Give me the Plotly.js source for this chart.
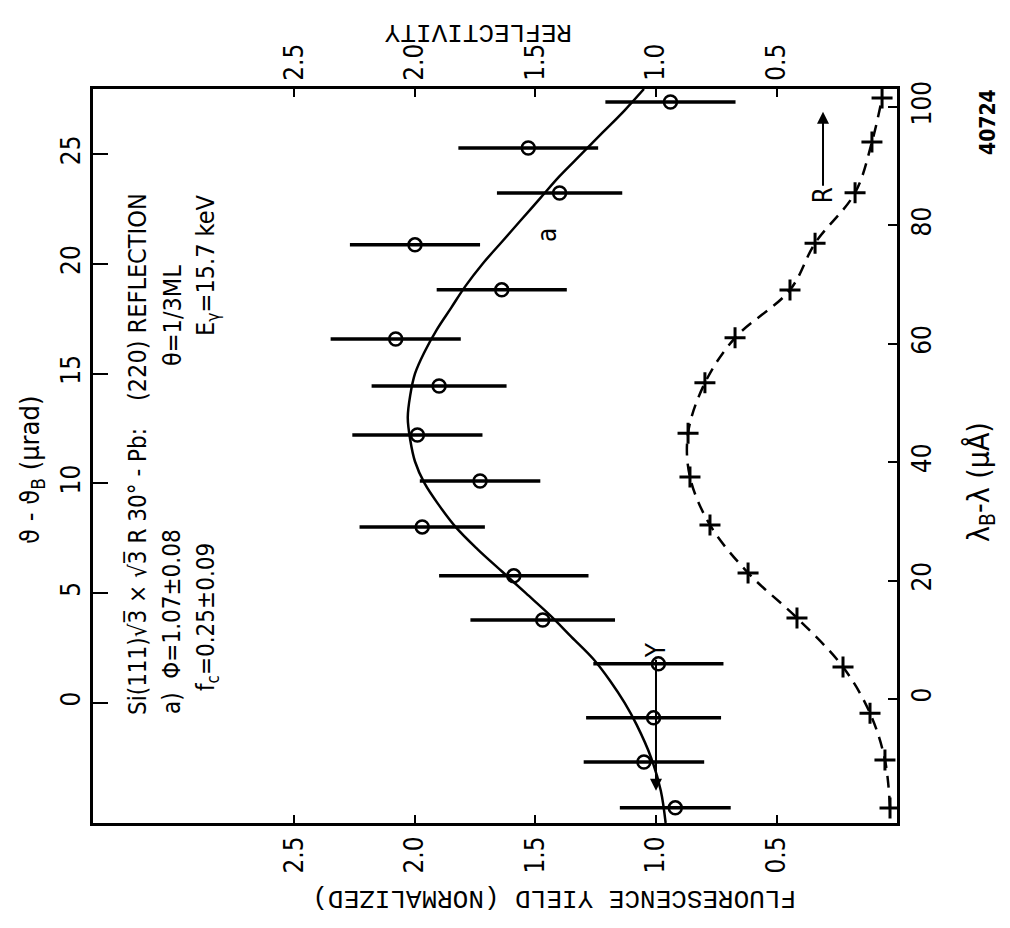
<!DOCTYPE html>
<html><head><meta charset="utf-8">
<script src="https://cdn.plot.ly/plotly-3.0.1.min.js"></script>
<style>body{margin:0;background:#fff}#chart{width:1010px;height:928px}</style>
</head><body><div id="chart"></div>
<script>
// ---- data ----
// fluorescence yield points: angle (µrad), yield, error
const yieldTheta = [-4.78, -2.69, -0.68, 1.78, 3.78, 5.79, 8.02, 10.11, 12.21, 14.44, 16.58, 18.82, 20.87, 23.23, 25.28, 27.38];
const yieldVal   = [0.92, 1.05, 1.01, 0.99, 1.47, 1.59, 1.97, 1.73, 1.99, 1.90, 2.08, 1.64, 2.00, 1.40, 1.53, 0.94];
const yieldErr   = [0.23, 0.25, 0.28, 0.27, 0.30, 0.31, 0.26, 0.25, 0.27, 0.28, 0.27, 0.27, 0.27, 0.26, 0.29, 0.27];
// fitted curve "a"
const curveTheta = [-5.47, -4, -2.5, -1, 0, 1, 2, 3, 4, 5, 6, 7, 8, 9, 10, 11, 12, 13, 14, 15, 16, 17, 18, 19, 20, 21, 22, 23, 24, 25, 26, 27, 27.97];
const curveVal   = [0.96, 0.98, 1.02, 1.08, 1.13, 1.19, 1.26, 1.35, 1.44, 1.54, 1.64, 1.74, 1.83, 1.90, 1.96, 2.00, 2.02, 2.03, 2.02, 2.00, 1.96, 1.91, 1.85, 1.79, 1.72, 1.64, 1.56, 1.48, 1.40, 1.31, 1.22, 1.13, 1.05];
// reflectivity points: wavelength offset (µÅ), R
const reflLambda = [-18.4, -10.3, -2.4, 5.4, 13.7, 21.3, 29.4, 37.5, 44.9, 53.4, 61.0, 69.1, 77.0, 85.5, 94.1, 101.5];
const reflVal    = [0.029, 0.050, 0.112, 0.224, 0.415, 0.618, 0.776, 0.859, 0.867, 0.797, 0.672, 0.444, 0.340, 0.174, 0.104, 0.062];
// tick labels
const yieldTicks = [0.5, 1.0, 1.5, 2.0, 2.5];
const yieldTickText = ['0.5', '1.0', '1.5', '2.0', '2.5'];
const thetaTicks = [0, 5, 10, 15, 20, 25];
const lambdaTicks = [0, 20, 40, 60, 80, 100];

// ---- geometry ----
const L = 93, R = 897, T = 89, B = 823;
const px = (x) => (x - L) / (R - L);
const py = (y) => (B - y) / (B - T);
const NARROW = 'Liberation Sans Narrow, DejaVu Sans Condensed, Liberation Sans, Arial, sans-serif';
const MONO = 'Liberation Mono, DejaVu Sans Mono, monospace';
const tf = {family: NARROW, size: 26, color: '#000'};
const txt = (x, y, text, size, extra) => Object.assign({xref: 'paper', yref: 'paper', x: px(x), y: py(y), text: text,
  textangle: -90, showarrow: false, xanchor: 'center', yanchor: 'middle', font: {family: NARROW, size: size, color: '#000'}}, extra || {});

const traces = [
  {x: curveVal, y: curveTheta, xaxis: 'x', yaxis: 'y', mode: 'lines', line: {color: '#000', width: 2.5, shape: 'spline'}, hoverinfo: 'skip'},
  {x: yieldVal, y: yieldTheta, xaxis: 'x', yaxis: 'y', mode: 'markers',
   error_x: {type: 'data', array: yieldErr, visible: true, color: '#000', thickness: 3.5, width: 0},
   marker: {symbol: 'circle-open', size: 13, color: '#000', line: {width: 2.5, color: '#000'}}},
  {x: reflVal, y: reflLambda, xaxis: 'x2', yaxis: 'y2', mode: 'lines+markers',
   line: {color: '#000', width: 2.5, dash: '12px,8px', shape: 'spline'},
   marker: {symbol: 'cross-thin', size: 15, color: '#000', line: {width: 3, color: '#000'}}}
];

const axBase = {showline: true, linewidth: 3, linecolor: '#000', showgrid: false, zeroline: false,
  ticks: 'inside', tickwidth: 2, tickcolor: '#000', tickfont: tf, tickangle: -90};

const layout = {
  width: 1010, height: 928,
  margin: {l: L, r: 1010 - R, t: T, b: 928 - B},
  paper_bgcolor: '#fff', plot_bgcolor: '#fff', showlegend: false,
  xaxis: Object.assign({}, axBase, {range: [3.336, 0], tickvals: yieldTicks, ticktext: yieldTickText, ticklen: 8, side: 'bottom', anchor: 'y'}),
  xaxis2: Object.assign({}, axBase, {range: [3.336, 0], tickvals: yieldTicks, ticktext: yieldTickText, ticklen: 8, side: 'top', overlaying: 'x', anchor: 'y'}),
  yaxis: Object.assign({}, axBase, {range: [-5.47, 27.97], tickvals: thetaTicks, ticklen: 15, side: 'left', anchor: 'x'}),
  yaxis2: Object.assign({}, axBase, {range: [-20.95, 103.04], tickvals: lambdaTicks, ticklen: 9, side: 'right', overlaying: 'y', anchor: 'x'}),
  annotations: [
    txt(32, 470, 'ϑ - ϑ<sub>B</sub> (µrad)', 27),
    txt(980, 482, 'λ<sub>B</sub>-λ (µÅ)', 30),
    txt(988, 122, '<b>40724</b>', 21),
    txt(554, 898, 'FLUORESCENCE YIELD (NORMALIZED)', 26, {textangle: 180, font: {family: MONO, size: 26, color: '#000'}}),
    txt(478, 32, 'REFLECTIVITY', 26, {textangle: 180, font: {family: MONO, size: 26, color: '#000'}}),
    txt(137, 572, 'Si(111)√3̅ × √3̅ R 30° - Pb:', 24),
    txt(137, 297, '(220) REFLECTION', 25),
    txt(172, 622, 'a)  Φ=1.07±0.08', 24),
    txt(172, 316, 'θ=1/3ML', 25),
    txt(207, 617, 'f<sub>c</sub>=0.25±0.09', 24),
    txt(207, 265, 'E<sub>γ</sub>=15.7 keV', 25),
    {xref: 'x', yref: 'y', x: 1.45, y: 21.3, text: 'a', textangle: -90, showarrow: false, xanchor: 'center', yanchor: 'middle', font: {family: NARROW, size: 26, color: '#000'}},
    {xref: 'x', yref: 'y', x: 1.0, y: -4.0, axref: 'x', ayref: 'y', ax: 1.0, ay: 2.4, text: 'Y', textangle: -90, showarrow: true, arrowhead: 2, arrowsize: 1.2, arrowwidth: 2, arrowcolor: '#000', xanchor: 'center', yanchor: 'middle', font: {family: NARROW, size: 26, color: '#000'}},
    {xref: 'x2', yref: 'y2', x: 0.307, y: 99.2, axref: 'x2', ayref: 'y2', ax: 0.307, ay: 85.1, text: 'R', textangle: -90, showarrow: true, arrowhead: 2, arrowsize: 1.2, arrowwidth: 2, arrowcolor: '#000', xanchor: 'center', yanchor: 'middle', font: {family: NARROW, size: 26, color: '#000'}}
  ]
};

Plotly.newPlot('chart', traces, layout, {staticPlot: true});
</script>
</body></html>
